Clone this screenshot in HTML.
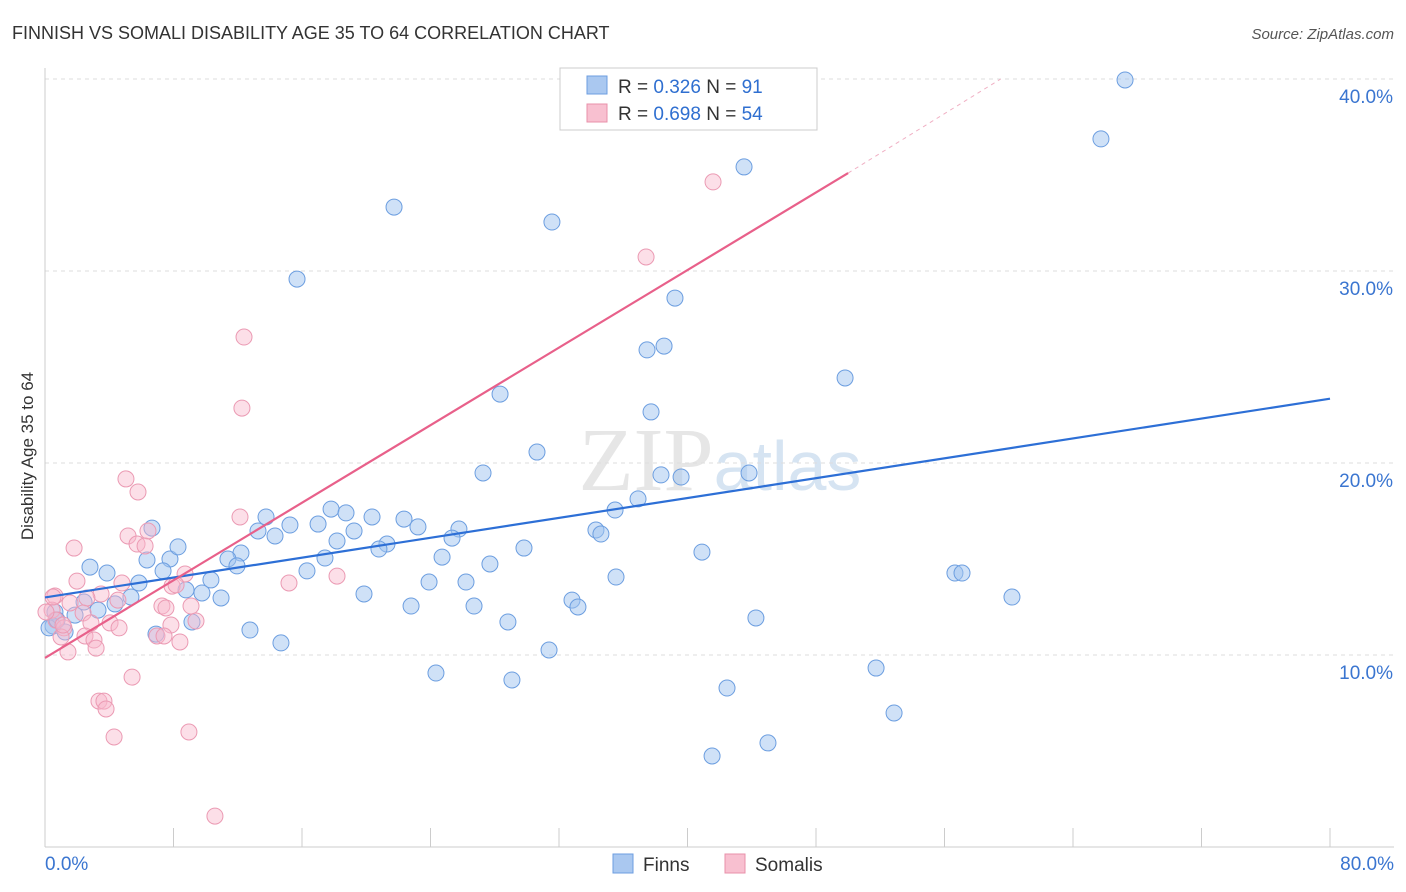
<!DOCTYPE html>
<html><head><meta charset="utf-8"><style>
body{margin:0;background:#fff;font-family:"Liberation Sans",sans-serif;}
svg{display:block}
</style></head><body>
<svg width="1406" height="892" viewBox="0 0 1406 892" id="c">
<text x="12" y="39" font-size="18" fill="#333">FINNISH VS SOMALI DISABILITY AGE 35 TO 64 CORRELATION CHART</text>
<text x="1394" y="39" font-size="15" fill="#555" font-style="italic" text-anchor="end">Source: ZipAtlas.com</text>
<text x="720" y="490" font-size="90" fill="#e6e6e6" text-anchor="middle" font-family="Liberation Serif,serif">ZIP<tspan fill="#d6e4f2" font-family="Liberation Sans,sans-serif" font-size="70">atlas</tspan></text>
<g id="grid"></g>
<line x1="45" y1="68" x2="45" y2="847" stroke="#ccc"/>
<line x1="45" y1="847" x2="1394" y2="847" stroke="#ccc"/>
<text transform="translate(33,456) rotate(-90)" font-size="17" fill="#333" text-anchor="middle">Disability Age 35 to 64</text>
<g id="pts"></g>
<g id="lines"></g>
<g>
<rect x="560" y="68" width="257" height="62" fill="#fff" stroke="#ccc"/>
<rect x="587" y="76" width="20" height="18" fill="#aac8f0" stroke="#6c9ee0"/>
<rect x="587" y="104" width="20" height="18" fill="#f8c0d0" stroke="#e890aa"/>
<text x="618" y="93" font-size="19" fill="#333">R = <tspan fill="#2f6fd0">0.326</tspan>   N = <tspan fill="#2f6fd0">91</tspan></text>
<text x="618" y="120" font-size="19" fill="#333">R = <tspan fill="#2f6fd0">0.698</tspan>   N = <tspan fill="#2f6fd0">54</tspan></text>
</g>
<g>
<rect x="613" y="854" width="20" height="19" fill="#aac8f0" stroke="#6c9ee0"/>
<text x="643" y="871" font-size="19" fill="#333">Finns</text>
<rect x="725" y="854" width="20" height="19" fill="#f8c0d0" stroke="#e890aa"/>
<text x="755" y="871" font-size="19" fill="#333">Somalis</text>
</g>
</svg>
<script>
const yTicks=[10,20,30,40];
const yTickLabels=["10.0%","20.0%","30.0%","40.0%"];
const xTickLabels=["0.0%","80.0%"];
const finnsPx=[[1125,80],[1101,139],[744,167],[394,207],[552,222],[297,279],[675,298],[647,350],[664,346],[845,378],[500,394],[651,412],[537,452],[483,473],[661,475],[681,477],[749,473],[638,499],[615,510],[331,509],[346,513],[266,517],[372,517],[404,519],[152,528],[290,525],[318,524],[258,531],[418,527],[459,529],[596,530],[601,534],[275,536],[337,541],[354,531],[452,538],[387,544],[379,549],[524,548],[241,553],[228,559],[170,559],[147,560],[178,547],[442,557],[325,558],[490,564],[702,552],[237,566],[90,567],[107,573],[163,571],[307,571],[955,573],[962,573],[139,583],[211,580],[429,582],[466,582],[616,577],[186,590],[202,593],[131,597],[115,604],[221,598],[364,594],[1012,597],[572,600],[578,607],[411,606],[474,606],[84,602],[55,612],[98,610],[75,615],[53,626],[49,628],[57,620],[65,632],[156,634],[192,622],[508,622],[756,618],[250,630],[281,643],[549,650],[436,673],[876,668],[512,680],[727,688],[894,713],[768,743],[712,756]];
const somaliPx=[[713,182],[646,257],[244,337],[242,408],[126,479],[138,492],[240,517],[148,531],[128,536],[137,544],[145,546],[74,548],[185,574],[337,576],[289,583],[77,581],[122,583],[172,586],[176,585],[101,594],[55,596],[87,598],[118,600],[162,606],[191,606],[70,603],[166,608],[52,610],[83,613],[56,620],[196,621],[171,625],[110,623],[91,623],[119,628],[64,628],[61,637],[157,636],[164,636],[180,642],[85,636],[94,640],[96,648],[68,652],[132,677],[99,701],[104,701],[106,709],[114,737],[189,732],[215,816],[53,597],[46,612],[63,625]];
// convert to data values (x %, y %)
const finnsX=finnsPx.map(p=>+((p[0]-45)/1285*80).toFixed(2));
const finnsY=finnsPx.map(p=>+((847-p[1])/19.2).toFixed(2));
const somaliX=somaliPx.map(p=>+((p[0]-45)/1285*80).toFixed(2));
const somaliY=somaliPx.map(p=>+((847-p[1])/19.2).toFixed(2));
const finnsLine=[[0,13.0],[80,23.35]];
const somaliLine=[[0,9.85],[50,35.1],[59.5,40.0]];
const sx=v=>45+v/80*1285, sy=v=>847-v*19.2;
const NS="http://www.w3.org/2000/svg";
function mk(t,a,p){const e=document.createElementNS(NS,t);for(const k in a)e.setAttribute(k,a[k]);p.appendChild(e);return e;}
const g=document.getElementById('grid');
yTicks.forEach((t,i)=>{
 const l=mk('line',{x1:45,x2:1394,y1:sy(t),y2:sy(t),stroke:'#ddd','stroke-dasharray':'4,4'},g);
 
 
 const tx=mk('text',{x:1393,y:sy(t)+24,'font-size':19,fill:'#3a75d0','text-anchor':'end'},g);
 tx.textContent=yTickLabels[i];
 
 
});
for(let i=0;i<=10;i++){const l=mk('line',{x1:sx(i*8),x2:sx(i*8),y1:828,y2:847,stroke:'#ccc'},g);
 
 }
[[0,'start',45],[80,'end',1394]].forEach((d,i)=>{const t=mk('text',{x:d[2],y:870,'font-size':19,fill:'#3a75d0','text-anchor':d[1]},g);t.textContent=xTickLabels[i];
 
 });
const pts=document.getElementById('pts');
finnsX.forEach((x,i)=>{const c=mk('circle',{cx:sx(x),cy:sy(finnsY[i]),r:8,fill:'rgba(160,195,240,0.5)',stroke:'#6c9ee0','stroke-width':1},pts);
 
 });
somaliX.forEach((x,i)=>{const c=mk('circle',{cx:sx(x),cy:sy(somaliY[i]),r:8,fill:'rgba(248,185,205,0.45)',stroke:'#eb9ab3','stroke-width':1},pts);
 
 });
const L=document.getElementById('lines');
const fl=mk('line',{x1:sx(finnsLine[0][0]),y1:sy(finnsLine[0][1]),x2:sx(finnsLine[1][0]),y2:sy(finnsLine[1][1]),stroke:'#2d6fd6','stroke-width':2.2},L);


const sl=mk('line',{x1:sx(somaliLine[0][0]),y1:sy(somaliLine[0][1]),x2:sx(somaliLine[1][0]),y2:sy(somaliLine[1][1]),stroke:'#e8608a','stroke-width':2.2},L);


const sd=mk('line',{x1:sx(somaliLine[1][0]),y1:sy(somaliLine[1][1]),x2:sx(somaliLine[2][0]),y2:sy(somaliLine[2][1]),stroke:'#f0b0c4','stroke-width':1,'stroke-dasharray':'4,4'},L);


</script>
</body></html>
